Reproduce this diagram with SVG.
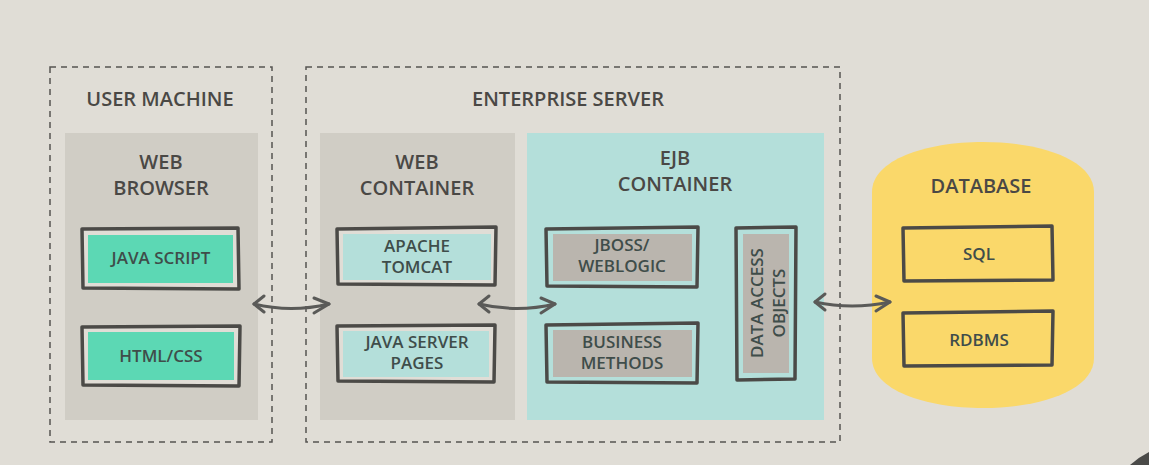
<svg xmlns="http://www.w3.org/2000/svg" width="1149" height="465" viewBox="0 0 1149 465">
<style>
.bg{fill:#e0ddd6}
.dash{fill:none;stroke:#555452;stroke-width:1.5;stroke-dasharray:6 5}
.panel{fill:#d0cdc5}
.ejb{fill:#b4dfda}
.db{fill:#fad86a}
.frame{fill:#e0ddd6;stroke:#4b4a47;stroke-width:3.5;stroke-linejoin:round}
.frameY{fill:#fad86a;stroke:#4b4a47;stroke-width:3.5;stroke-linejoin:round}
.frameT{fill:#b4dfda;stroke:#4b4a47;stroke-width:3.5;stroke-linejoin:round}
.teal{fill:#5cd8b4}
.cyan{fill:#b4dfda}
.grey{fill:#bab5ae}
.h{font-family:"Open Sans","Liberation Sans",sans-serif;font-weight:600;font-size:20px;fill:#4a4845;text-anchor:middle}
.t{font-family:"Open Sans","Liberation Sans",sans-serif;font-weight:600;font-size:17px;fill:#3f4d4a;text-anchor:middle}
.arrow{fill:none;stroke:#5a5a58;stroke-width:3;stroke-linecap:round;stroke-linejoin:round}
</style>
<rect class="bg" x="0" y="0" width="1149" height="465"/>
<g id="user-machine">
<rect class="dash" x="50" y="67" width="222" height="375"/>
<text class="h" x="160" y="106">USER MACHINE</text>
</g>
<g id="enterprise-server">
<rect class="dash" x="306" y="67" width="534" height="375"/>
<text class="h" x="568" y="106">ENTERPRISE SERVER</text>
</g>
<g id="web-browser">
<rect class="panel" x="65" y="133" width="193" height="287"/>
<text class="h" x="161" y="169">WEB</text>
<text class="h" x="161" y="195">BROWSER</text>
</g>
<g id="web-container">
<rect class="panel" x="320" y="133" width="195" height="287"/>
<text class="h" x="417" y="169">WEB</text>
<text class="h" x="417" y="195">CONTAINER</text>
</g>
<g id="ejb-container">
<rect class="ejb" x="527" y="133" width="297" height="287"/>
<text class="h" x="675" y="165">EJB</text>
<text class="h" x="675" y="191">CONTAINER</text>
</g>
<g id="database">
<path class="db" d="M872,192 C872,160 925,142 983,142 C1041,142 1094,160 1094,192 L1094,358 C1094,390 1041,408 983,408 C925,408 872,390 872,358 Z"/>
<text class="h" x="981" y="193">DATABASE</text>
</g>
<g id="java-script">
<path class="frame" d="M82,229 L238,228 L239,289 L83,288 Z"/>
<rect class="teal" x="88" y="235" width="145" height="48"/>
<text class="t" x="161" y="264">JAVA SCRIPT</text>
</g>
<g id="html-css">
<path class="frame" d="M82,327 L240,326 L239,386 L83,385 Z"/>
<rect class="teal" x="88" y="332" width="146" height="48"/>
<text class="t" x="161" y="362">HTML/CSS</text>
</g>
<g id="apache-tomcat">
<path class="frame" d="M337,229 L496,227 L495,285 L338,284 Z"/>
<rect class="cyan" x="343" y="234" width="148" height="46"/>
<text class="t" x="417" y="252">APACHE</text>
<text class="t" x="417" y="273">TOMCAT</text>
</g>
<g id="java-server-pages">
<path class="frame" d="M337,326 L495,325 L494,382 L338,381 Z"/>
<rect class="cyan" x="343" y="331" width="146" height="46"/>
<text class="t" x="417" y="348">JAVA SERVER</text>
<text class="t" x="417" y="369">PAGES</text>
</g>
<g id="jboss-weblogic">
<path class="frameT" d="M546,229 L698,227 L697,287 L547,286 Z"/>
<rect class="grey" x="553" y="234" width="139" height="47"/>
<text class="t" x="622" y="251">JBOSS/</text>
<text class="t" x="622" y="272">WEBLOGIC</text>
</g>
<g id="business-methods">
<path class="frameT" d="M546,325 L698,323 L697,383 L547,382 Z"/>
<rect class="grey" x="553" y="330" width="139" height="47"/>
<text class="t" x="622" y="348">BUSINESS</text>
<text class="t" x="622" y="369">METHODS</text>
</g>
<g id="data-access-objects">
<path class="frameT" d="M736,228 L796,227 L795,379 L737,380 Z"/>
<rect class="grey" x="743" y="234" width="46" height="139"/>
<text class="t" transform="translate(763,303) rotate(-90)" x="0" y="0">DATA ACCESS</text>
<text class="t" transform="translate(785,303) rotate(-90)" x="0" y="0">OBJECTS</text>
</g>
<g id="sql">
<path class="frameY" d="M903,228 L1052,226 L1053,280 L904,281 Z"/>
<text class="t" x="979" y="260">SQL</text>
</g>
<g id="rdbms">
<path class="frameY" d="M903,313 L1053,311 L1052,365 L904,366 Z"/>
<text class="t" x="979" y="346">RDBMS</text>
</g>
<g id="connectors">
<path class="arrow" d="M254,304 Q291,313 329,304"/>
<path class="arrow" d="M264,296 L254,304 L264,312"/>
<path class="arrow" d="M314,298 L329,304 L314,313"/>
<path class="arrow" d="M479,304 Q517,313 555,304"/>
<path class="arrow" d="M489,296 L479,304 L489,312"/>
<path class="arrow" d="M541,298 L555,304 L541,313"/>
<path class="arrow" d="M815,302 Q852,310 890,302"/>
<path class="arrow" d="M825,294 L815,302 L825,310"/>
<path class="arrow" d="M876,296 L890,302 L876,311"/>
</g>
<path d="M1130,465 Q1139,457 1149,452 L1149,465 Z" fill="#4a4a48"/>
</svg>
